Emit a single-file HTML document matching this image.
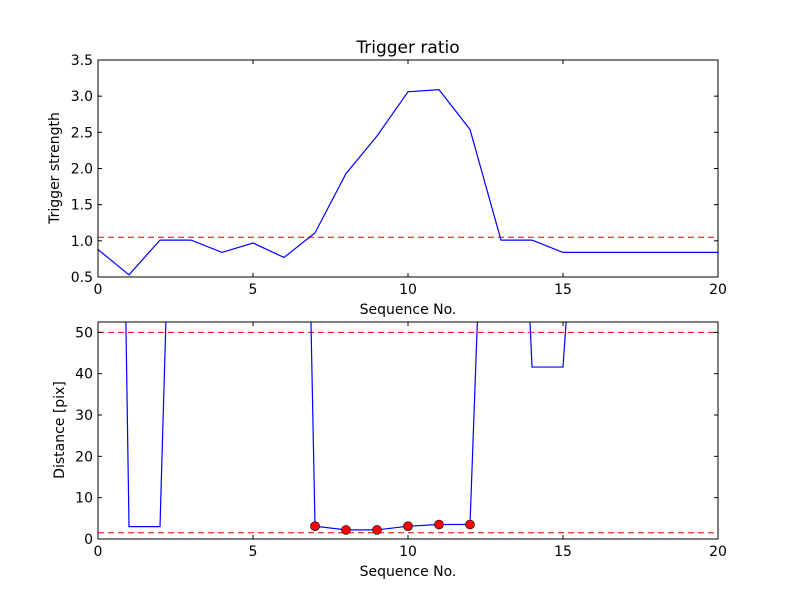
<!DOCTYPE html>
<html><head><meta charset="utf-8"><style>body{margin:0;background:#fff}svg{font-family:"DejaVu Sans","Liberation Sans",sans-serif}</style></head>
<body>
<svg id="c" width="800" height="600" xmlns="http://www.w3.org/2000/svg">
<defs><clipPath id="cp1"><rect x="98" y="60" width="620" height="217"/></clipPath><clipPath id="cp2"><rect x="98" y="322" width="620" height="217"/></clipPath></defs>
</svg>
<script>
const xs = [0,1,2,3,4,5,6,7,8,9,10,11,12,13,14,15,16,17,18,19,20];
const trig = [0.88,0.53,1.01,1.01,0.84,0.97,0.77,1.11,1.93,2.45,3.06,3.09,2.54,1.01,1.01,0.84,0.84,0.84,0.84,0.84,0.84];
const trigThresh = 1.05;
const dist = [498,3,3,264,300,300,384,3.1,2.2,2.2,3.1,3.5,3.5,210,41.6,41.6,150,150,150,150,150];
const markIdx = [7,8,9,10,11,12];
const distThresh = [50,1.5];
const xTicks = [0,5,10,15,20];
const yTicks1 = [0.5,1.0,1.5,2.0,2.5,3.0,3.5];
const yTicks2 = [0,10,20,30,40,50];

const svg=document.getElementById('c');
const NS='http://www.w3.org/2000/svg';
function mk(t,a,p){const e=document.createElementNS(NS,t);for(const k in a)e.setAttribute(k,a[k]);(p||svg).appendChild(e);return e;}
const X=v=>98+v*31;
const Y1=v=>277-(v-0.5)/3*217;
const Y2=v=>539-v/52.5*217;

function axes(top,Y,yt,fmt,ylabel,prefix,title){
  const bot=top+217;
  xTicks.forEach(t=>{
    const l=mk('line',{x1:X(t),x2:X(t),y1:bot,y2:bot-4,stroke:'#000'});
    
    mk('line',{x1:X(t),x2:X(t),y1:top,y2:top+4,stroke:'#000'});
    const tx=mk('text',{x:X(t),y:bot+17,'text-anchor':'middle','font-size':14});tx.textContent=t;
    
  });
  yt.forEach(t=>{
    mk('line',{x1:98,x2:102,y1:Y(t),y2:Y(t),stroke:'#000'});
    mk('line',{x1:718,x2:714,y1:Y(t),y2:Y(t),stroke:'#000'});
    const tx=mk('text',{x:93,y:Y(t)+5,'text-anchor':'end','font-size':14});tx.textContent=fmt(t);
    
  });
  const xl=mk('text',{x:408,y:bot+37,'text-anchor':'middle','font-size':14});xl.textContent='Sequence No.';
  
  const cy=top+108;
  const yl=mk('text',{x:0,y:0,'text-anchor':'middle','font-size':14,transform:`translate(${prefix==='top'?59:64},${cy}) rotate(-90)`});yl.textContent=ylabel;
  
  if(title){const tt=mk('text',{x:408,y:top-7,'text-anchor':'middle','font-size':17});tt.textContent=title;
    }
}
// top
const g1=mk('g',{'clip-path':'url(#cp1)'});
const th1=mk('line',{x1:98,x2:718,y1:Y1(trigThresh),y2:Y1(trigThresh),stroke:'#e00','stroke-dasharray':'6,4'},g1);

const p1=mk('polyline',{points:xs.map((x,i)=>X(x)+','+Y1(trig[i])).join(' '),fill:'none',stroke:'#00f','stroke-width':1.2},g1);

const f1=mk('rect',{x:98,y:60,width:620,height:217,fill:'none',stroke:'#000'});

axes(60,Y1,yTicks1,t=>t.toFixed(1),'Trigger strength','top','Trigger ratio');
// bottom
const g2=mk('g',{'clip-path':'url(#cp2)'});
distThresh.forEach(v=>{const l=mk('line',{x1:98,x2:718,y1:Y2(v),y2:Y2(v),stroke:'#e00','stroke-dasharray':'6,4'},g2);
  });
const p2=mk('polyline',{points:xs.map((x,i)=>X(x)+','+Y2(dist[i])).join(' '),fill:'none',stroke:'#00f','stroke-width':1.2},g2);

markIdx.forEach(i=>{const c=mk('circle',{cx:X(xs[i]),cy:Y2(dist[i]),r:4.5,fill:'#f00',stroke:'#000','stroke-width':0.6},g2);
  });
const f2=mk('rect',{x:98,y:322,width:620,height:217,fill:'none',stroke:'#000'});

axes(322,Y2,yTicks2,t=>String(t),'Distance [pix]','bottom',null);
</script>
</body></html>
